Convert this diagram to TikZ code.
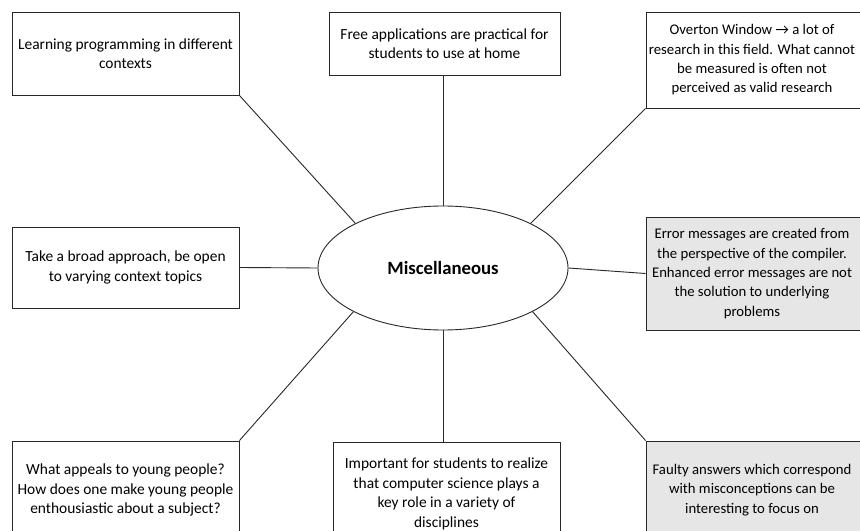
\documentclass[tikz,border=0pt]{standalone}
\usepackage{fontspec}
\setmainfont{Carlito}
\usetikzlibrary{shapes.geometric}
\definecolor{inkline}{RGB}{40,40,40}
\definecolor{notegray}{RGB}{231,230,230}
\begin{document}
\begin{tikzpicture}[x=1bp,y=-1bp,
  box/.style={draw=inkline,line width=0.9bp,rectangle,align=center,
    inner sep=0pt,font=\fontsize{15.5}{19.6}\selectfont},
  graybox/.style={box,fill=notegray},
  edgetext/.style={align=center,inner sep=0pt,
    font=\fontsize{14.8}{19.4}\selectfont},
  hub/.style={draw=inkline,line width=0.9bp,ellipse,inner sep=0pt,
    minimum width=250bp,minimum height=124bp,
    font=\fontsize{18.8}{22}\selectfont\bfseries},
  link/.style={draw=inkline,line width=0.9bp}]
\clip (0,0) rectangle (860,531);
\fill[white] (0,0) rectangle (860,531);

% central topic
\node[hub] (misc) at (443,268) {Miscellaneous};

% notes on the left and in the middle column
\node[box,minimum width=227bp,minimum height=83bp] (learn) at (125.5,53.5)
  {Learning programming in different\\contexts};
\node[box,minimum width=231bp,minimum height=63bp] (free) at (444.5,43.5)
  {Free applications are practical for\\students to use at home};
\node[box,minimum width=227bp,minimum height=81bp] (broad) at (125.5,267.5)
  {Take a broad approach, be open\\to varying context topics};
\node[box,minimum width=227bp,minimum height=98bp] (appeal) at (125.5,490)
  {What appeals to young people?\\How does one make young people\\enthousiastic about a subject?};
\node[box,minimum width=227bp,minimum height=104bp] (important) at (446.5,494)
  {Important for students to realize\\that computer science plays a\\key role in a variety of\\disciplines};

% notes on the right: boxes run past the edge, text kept inside
\node[box,minimum width=230bp,minimum height=96bp] (overton) at (761,60) {};
\node[edgetext] (overtonText) at (752,60)
  {Overton Window \textrightarrow\ a lot of\\research in this field. What cannot\\be measured is often not\\perceived as valid research};
\node[graybox,minimum width=230bp,minimum height=113bp] (error) at (761,273.5) {};
\node[edgetext] (errorText) at (752,273.5)
  {Error messages are created from\\the perspective of the compiler.\\Enhanced error messages are not\\the solution to underlying\\problems};
\node[graybox,minimum width=230bp,minimum height=98bp] (faulty) at (761,490) {};
\node[edgetext] (faultyText) at (752,490)
  {Faulty answers which correspond\\with misconceptions can be\\interesting to focus on};

% spokes
\draw[link] (learn.south east) -- (misc.153);
\draw[link] (misc.north) -- (misc.north |- free.south);
\draw[link] (overton.south west) -- (misc.27);
\draw[link] (broad.east) -- (misc.west);
\draw[link] (misc.east) -- (error.west);
\draw[link] (appeal.north east) -- (misc.206);
\draw[link] (misc.south) -- (misc.south |- important.north);
\draw[link] (faulty.north west) -- (misc.334);
\end{tikzpicture}
\end{document}
